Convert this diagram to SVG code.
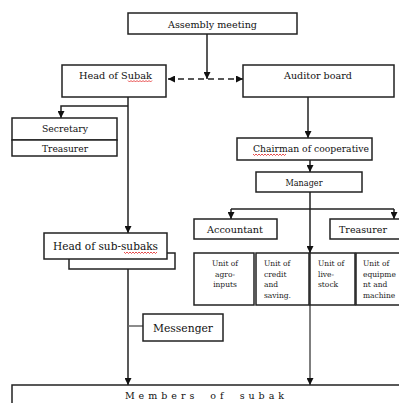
<svg xmlns="http://www.w3.org/2000/svg" width="399" height="403" viewBox="0 0 399 403">
<style>
.b{fill:#fff;stroke:#222;stroke-width:1.5}
.t{font-family:"DejaVu Serif","Liberation Serif",serif;fill:#111;text-anchor:middle}
.u{font-family:"DejaVu Serif","Liberation Serif",serif;fill:#222;font-size:7.5px}
.c{fill:none;stroke:#222;stroke-width:1.5}
.sq{fill:none;stroke:#e02020;stroke-width:0.8}
</style>
<defs>
<marker id="ah" viewBox="0 0 10 10" refX="10" refY="5" markerWidth="7" markerHeight="7" markerUnits="userSpaceOnUse" orient="auto">
<path d="M0,0 L10,5 L0,10 z" fill="#111"/>
</marker>
<marker id="ahs" viewBox="0 0 10 10" refX="0" refY="5" markerWidth="7" markerHeight="7" markerUnits="userSpaceOnUse" orient="auto">
<path d="M10,0 L0,5 L10,10 z" fill="#111"/>
</marker>
</defs>
<rect width="399" height="403" fill="#fff"/>
<g id="connectors">
<path class="c" d="M207,34 V79" marker-end="url(#ah)"/>
<path class="c" d="M168,79 H243" stroke-dasharray="6,4" marker-start="url(#ahs)" marker-end="url(#ah)"/>
<path class="c" d="M308,97 V138" marker-end="url(#ah)"/>
<path class="c" d="M310,160 V172" marker-end="url(#ah)"/>
<path class="c" d="M310,192 V253" marker-end="url(#ah)"/>
<path d="M310,305 V385" fill="none" stroke="#555" stroke-width="1.5" marker-end="url(#ah)"/>
<path class="c" d="M231,209 H394"/>
<path class="c" d="M231,209 V219" marker-end="url(#ah)"/>
<path class="c" d="M394,209 V219" marker-end="url(#ah)"/>
<path class="c" d="M128,97 V233" marker-end="url(#ah)"/>
<path class="c" d="M128,106 H61 V118" marker-end="url(#ah)"/>
<path class="c" d="M128,269 V385" marker-end="url(#ah)"/>
<path d="M128,326 H143" fill="none" stroke="#666" stroke-width="1.5"/>
</g>
<g id="assembly">
<rect class="b" x="128" y="13" width="169" height="21"/>
<text class="t" x="212.5" y="27.5" font-size="9.5" textLength="89" lengthAdjust="spacingAndGlyphs">Assembly meeting</text>
</g>
<g id="head-subak">
<rect class="b" x="62" y="65" width="104" height="32"/>
<text class="t" x="115.5" y="78.5" font-size="9.5" textLength="73" lengthAdjust="spacingAndGlyphs">Head of Subak</text>
<path class="sq" d="M128,80.5 l1.5,1.5 l1.5,-1.5 l1.5,1.5 l1.5,-1.5 l1.5,1.5 l1.5,-1.5 l1.5,1.5 l1.5,-1.5 l1.5,1.5 l1.5,-1.5 l1.5,1.5 l1.5,-1.5 l1.5,1.5 l1.5,-1.5 l1.5,1.5 l1.5,-1.5"/>
</g>
<g id="auditor">
<rect class="b" x="243" y="65" width="151" height="32"/>
<text class="t" x="318" y="78.5" font-size="9.5" textLength="68" lengthAdjust="spacingAndGlyphs">Auditor board</text>
</g>
<g id="secretary">
<rect class="b" x="12" y="118" width="105" height="22"/>
<text class="t" x="65" y="132" font-size="9" textLength="46" lengthAdjust="spacingAndGlyphs">Secretary</text>
</g>
<g id="treasurer-subak">
<rect class="b" x="12" y="140" width="105" height="16"/>
<text class="t" x="65" y="151.5" font-size="9" textLength="46" lengthAdjust="spacingAndGlyphs">Treasurer</text>
</g>
<g id="chairman">
<rect class="b" x="237" y="138" width="135" height="22"/>
<text class="t" x="311" y="152" font-size="9.5" textLength="116" lengthAdjust="spacingAndGlyphs">Chairman of cooperative</text>
<path class="sq" d="M253,154 l1.5,1.5 l1.5,-1.5 l1.5,1.5 l1.5,-1.5 l1.5,1.5 l1.5,-1.5 l1.5,1.5 l1.5,-1.5 l1.5,1.5 l1.5,-1.5 l1.5,1.5 l1.5,-1.5 l1.5,1.5 l1.5,-1.5 l1.5,1.5 l1.5,-1.5 l1.5,1.5 l1.5,-1.5 l1.5,1.5 l1.5,-1.5 l1.5,1.5 l1.5,-1.5"/>
</g>
<g id="manager">
<rect class="b" x="256" y="172" width="106" height="20"/>
<text class="t" x="304" y="185.5" font-size="9.5" textLength="37" lengthAdjust="spacingAndGlyphs">Manager</text>
</g>
<g id="accountant">
<rect class="b" x="194" y="219" width="83" height="20"/>
<text class="t" x="235" y="233" font-size="10" textLength="56" lengthAdjust="spacingAndGlyphs">Accountant</text>
</g>
<g id="treasurer-coop">
<rect class="b" x="330" y="219" width="75" height="20"/>
<text class="t" x="363" y="233" font-size="10" textLength="48" lengthAdjust="spacingAndGlyphs">Treasurer</text>
</g>
<g id="unit-agro">
<rect class="b" x="194" y="253" width="60" height="52"/>
<text class="u" x="225" y="266" text-anchor="middle"><tspan x="225">Unit of</tspan><tspan x="225" dy="10.7">agro-</tspan><tspan x="225" dy="10.7">inputs</tspan></text>
</g>
<g id="unit-credit">
<rect class="b" x="256" y="253" width="53" height="52"/>
<text class="u" x="264" y="266"><tspan x="264">Unit of</tspan><tspan x="264" dy="10.7">credit</tspan><tspan x="264" dy="10.7">and</tspan><tspan x="264" dy="10.7">saving.</tspan></text>
</g>
<g id="unit-livestock">
<rect class="b" x="310" y="253" width="45" height="52"/>
<text class="u" x="318" y="266"><tspan x="318">Unit of</tspan><tspan x="318" dy="10.7">live-</tspan><tspan x="318" dy="10.7">stock</tspan></text>
</g>
<g id="unit-equipment">
<rect class="b" x="356" y="253" width="50" height="52"/>
<text class="u" x="363" y="266"><tspan x="363">Unit of</tspan><tspan x="363" dy="10.7">equipme</tspan><tspan x="363" dy="10.7">nt and</tspan><tspan x="363" dy="10.7">machine</tspan></text>
</g>
<g id="head-sub-subak">
<rect class="b" x="69" y="253" width="106" height="16"/>
<rect class="b" x="44" y="233" width="123" height="26"/>
<text class="t" x="105.5" y="250" font-size="11.5" textLength="105" lengthAdjust="spacingAndGlyphs">Head of sub-subaks</text>
<path class="sq" d="M124,252 l1.5,1.5 l1.5,-1.5 l1.5,1.5 l1.5,-1.5 l1.5,1.5 l1.5,-1.5 l1.5,1.5 l1.5,-1.5 l1.5,1.5 l1.5,-1.5 l1.5,1.5 l1.5,-1.5 l1.5,1.5 l1.5,-1.5 l1.5,1.5 l1.5,-1.5 l1.5,1.5 l1.5,-1.5 l1.5,1.5 l1.5,-1.5 l1.5,1.5 l1.5,-1.5"/>
</g>
<g id="messenger">
<rect class="b" x="143" y="314" width="80" height="27"/>
<text class="t" x="183" y="332" font-size="10.5" textLength="60" lengthAdjust="spacingAndGlyphs">Messenger</text>
</g>
<g id="members">
<rect class="b" x="12" y="385" width="400" height="30"/>
<text class="t" x="206.5" y="398.5" font-size="9.5" letter-spacing="4" word-spacing="5">Members of subak</text>
</g>
</svg>
